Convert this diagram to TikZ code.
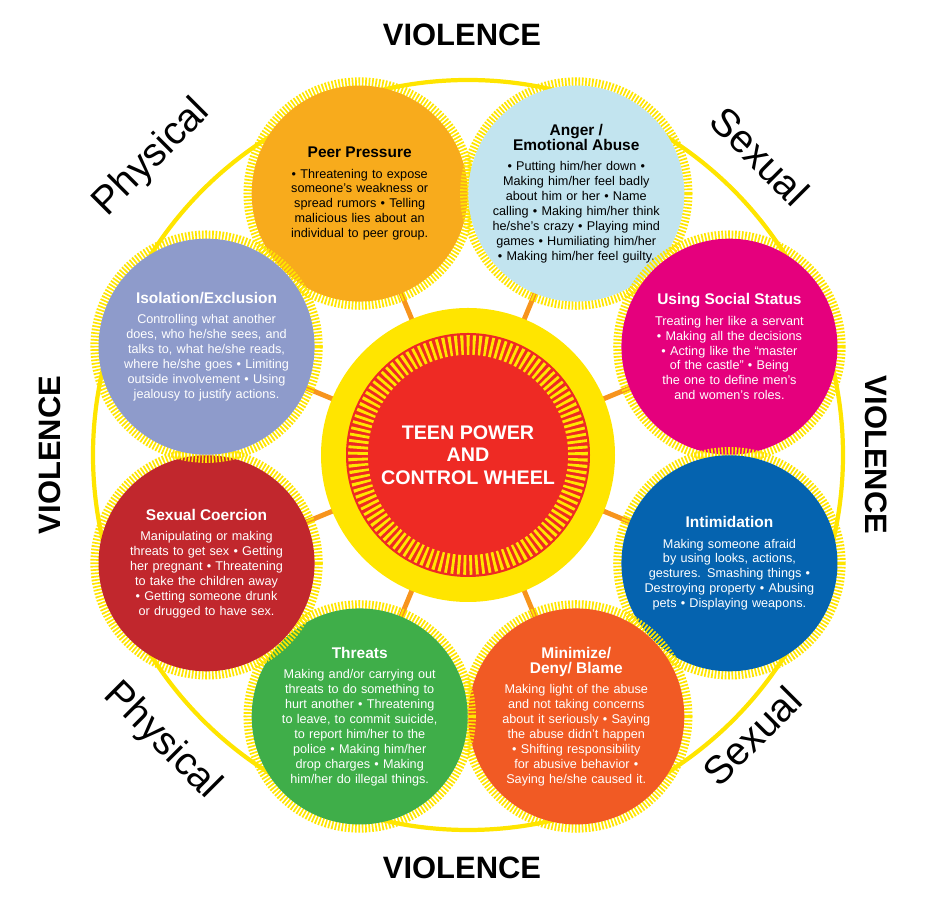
\documentclass[tikz,border=0pt]{standalone}
\usepackage{fontspec}
\setmainfont{Liberation Sans}
\usetikzlibrary{calc}
\definecolor{wheelyellow}{HTML}{FFE500}
\definecolor{spoke}{HTML}{F7941D}
\definecolor{peer}{HTML}{F8AB1C}
\definecolor{anger}{HTML}{C2E4EF}
\definecolor{status}{HTML}{E5007D}
\definecolor{intim}{HTML}{0563AF}
\definecolor{minim}{HTML}{F15A24}
\definecolor{threat}{HTML}{3FAE49}
\definecolor{coerce}{HTML}{C1272D}
\definecolor{isol}{HTML}{8E9BCB}
\definecolor{redcore}{HTML}{EE2A24}
\tikzset{
  bubble/.style={circle, minimum size=5.4cm, inner sep=0pt},
  burst/.style={wheelyellow, line width=6pt, dash pattern=on 1.2pt off 1.2pt},
  bodytext/.style={align=center, text width=4.4cm, font=\fontsize{9}{10.6}\selectfont},
  violence/.style={font=\fontsize{22}{22}\selectfont\bfseries},
  side/.style={font=\fontsize{28}{28}\selectfont},
}
\begin{document}
\begin{tikzpicture}[x=0.025cm, y=0.025cm]
\useasboundingbox (0,0) rectangle (936,906);
\coordinate (C) at (468,451);
% outer ring
\draw[wheelyellow, line width=3pt] (C) circle (375);
% spokes
\foreach \a in {22.5,67.5,...,337.5}
    \draw[spoke, line width=3.5pt] (C) -- ($(C)+(\a:283)$);
% centre hub
\fill[wheelyellow] (C) circle (147);
\fill[redcore] (C) circle (122);
\draw[wheelyellow, line width=14pt, dash pattern=on 2pt off 2.2pt] (C) circle (110);
\fill[redcore] (C) circle (98);
\node[align=center, text=white, font=\fontsize{14}{16}\selectfont\bfseries] (hub) at (C) {TEEN POWER\\AND\\CONTROL WHEEL};
% the eight bubbles
\foreach \a/\col/\tc/\nm/\ttl/\bdy in {
  112.5/peer/black/peer/{Peer Pressure}/{• Threatening to expose someone’s weakness or spread rumors • Telling malicious lies about an individual to peer group.},
  67.5/anger/black/anger/{Anger /\\Emotional Abuse}/{• Putting him/her down • Making him/her feel badly about him or her • Name calling • Making him/her think he/she’s crazy • Playing mind games • Humiliating him/her • Making him/her feel guilty.},
  22.5/status/white/status/{Using Social Status}/{Treating her like a servant • Making all the decisions • Acting like the “master of the castle” • Being the one to define men’s and women’s roles.},
  -22.5/intim/white/intim/{Intimidation}/{Making someone afraid by using looks, actions, gestures. Smashing things • Destroying property • Abusing pets • Displaying weapons.},
  -67.5/minim/white/minim/{Minimize/\\Deny/ Blame}/{Making light of the abuse and not taking concerns about it seriously • Saying the abuse didn’t happen • Shifting responsibility for abusive behavior • Saying he/she caused it.},
  -112.5/threat/white/threat/{Threats}/{Making and/or carrying out threats to do something to hurt another • Threatening to leave, to commit suicide, to report him/her to the police • Making him/her drop charges • Making him/her do illegal things.},
  -157.5/coerce/white/coerce/{Sexual Coercion}/{Manipulating or making threats to get sex • Getting her pregnant • Threatening to take the children away • Getting someone drunk or drugged to have sex.},
  157.5/isol/white/isol/{Isolation/Exclusion}/{Controlling what another does, who he/she sees, and talks to, what he/she reads, where he/she goes • Limiting outside involvement • Using jealousy to justify actions.}} {
    \draw[burst] ($(C)+(\a:283)$) circle (112);
    \node[bubble, fill=\col] (\nm) at ($(C)+(\a:283)$) {};
    \node[bodytext, text=\tc] (\nm-txt) at (\nm) {\hyphenpenalty=10000\lefthyphenmin=62 {\fontsize{11}{12.5}\selectfont\bfseries \ttl}\\[4pt] \bdy};
}
% side labels
\node[violence] (vtop) at (462,871) {VIOLENCE};
\node[violence] (vbot) at (462,38) {VIOLENCE};
\node[violence, rotate=90] (vleft) at (50,451) {VIOLENCE};
\node[violence, rotate=-90] (vright) at (876,451) {VIOLENCE};
\node[side, rotate=45] (ptop) at (152,748) {Physical};
\node[side, rotate=-45] (stop) at (760,750) {Sexual};
\node[side, rotate=-45] (pbot) at (162,165) {Physical};
\node[side, rotate=45] (sbot) at (752,170) {Sexual};
\end{tikzpicture}
\end{document}
